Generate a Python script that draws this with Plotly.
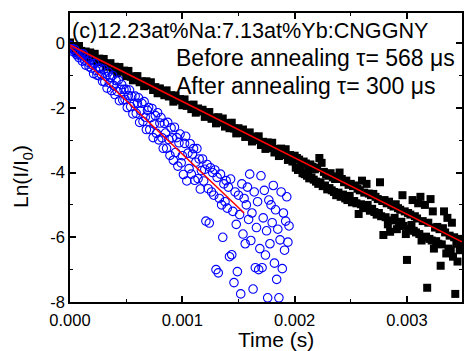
import numpy as np
import plotly.graph_objects as go

# ---- data ----
# Before annealing: sampling grid in microseconds
before_t_us_dense = np.arange(0, 2000, 20)      # 0 .. 1980 us
before_t_us_sparse = np.arange(2000, 3490, 10)  # 2000 .. 3480 us
before_y_dense = [
    0.02, -0.15, -0.11, -0.27, -0.09, -0.24, -0.34, -0.26, -0.46, -0.29,
    -0.43, -0.33, -0.57, -0.48, -0.59, -0.49, -0.73, -0.65, -0.62, -0.79,
    -0.73, -0.93, -0.74, -0.88, -0.85, -1.02, -0.86, -1.04, -1.15, -1.03,
    -1.02, -1.21, -1.18, -1.33, -1.18, -1.31, -1.21, -1.45, -1.36, -1.55,
    -1.40, -1.50, -1.61, -1.46, -1.65, -1.61, -1.81, -1.62, -1.77, -1.73,
    -1.92, -1.74, -1.94, -1.91, -2.04, -1.90, -2.15, -2.02, -2.11, -2.06,
    -2.28, -2.18, -2.13, -2.34, -2.30, -2.48, -2.29, -2.45, -2.33, -2.58,
    -2.47, -2.63, -2.46, -2.64, -2.79, -2.63, -2.78, -2.67, -2.90, -2.82,
    -2.76, -3.04, -2.89, -3.00, -2.88, -3.15, -3.05, -3.27, -3.07, -3.24,
    -3.08, -3.38, -3.27, -3.49, -3.26, -3.46, -3.28, -3.61, -3.46, -3.66,
]
before_y_sparse = [
    -3.48, -3.85, -3.55, -3.92, -3.60, -3.88, -3.70, -4.02, -3.66, -4.05,
    -3.72, -4.10, -3.95, -4.18, -3.75, -4.15, -3.82, -4.22, -3.90, -4.28,
    -3.86, -4.35, -3.55, -4.30, -3.70, -4.42, -3.98, -4.40, -4.05, -4.52,
    -4.10, -4.48, -4.02, -4.55, -4.15, -4.60, -4.20, -4.70, -4.12, -4.62,
    -4.00, -4.75, -4.20, -4.68, -4.30, -4.80, -4.25, -4.85, -4.38, -4.72,
    -4.35, -4.92, -4.42, -4.88, -4.40, -4.95, -4.50, -5.28, -4.55, -4.98,
    -4.25, -5.05, -4.62, -5.10, -4.35, -5.00, -4.65, -5.18, -4.70, -5.12,
    -4.66, -5.22, -4.75, -5.30, -4.82, -5.25, -4.30, -5.35, -4.88, -5.93,
    -4.85, -5.38, -4.95, -5.60, -4.90, -5.83, -5.00, -5.48, -5.05, -5.40,
    -4.98, -5.75, -5.10, -5.60, -5.15, -5.52, -4.70, -5.65, -5.20, -5.90,
    -6.70, -5.25, -5.75, -5.30, -5.62, -4.85, -5.80, -5.35, -5.85, -5.42,
    -4.95, -5.90, -4.75, -6.10, -5.50, -6.00, -5.00, -5.98, -7.56, -5.55,
    -6.05, -4.82, -6.10, -5.20, -6.35, -5.70, -6.12, -5.68, -6.20, -5.75,
    -6.88, -6.22, -5.72, -5.20, -5.85, -6.50, -5.40, -6.35, -5.95, -6.40,
    -5.55, -6.60, -6.00, -7.75, -6.20, -6.75, -6.05, -6.40, -6.20,
]

# After annealing: sampling grid in microseconds
after_t_us = np.arange(0, 1960, 10)  # 0 .. 1950 us
after_y = [
    -0.07, -0.18, -0.17, -0.27, -0.19, -0.29, -0.36, -0.31, -0.45, -0.39,
    -0.33, -0.56, -0.34, -0.53, -0.68, -0.47, -0.59, -0.73, -0.52, -0.77,
    -0.68, -0.94, -0.63, -0.84, -0.99, -0.78, -1.01, -0.77, -0.97, -1.18,
    -0.81, -1.20, -1.03, -1.39, -0.90, -1.23, -1.06, -1.47, -1.00, -1.31,
    -1.59, -1.16, -1.49, -1.14, -1.78, -1.43, -1.28, -1.76, -1.43, -1.74,
    -1.43, -1.99, -1.62, -1.45, -1.96, -1.64, -2.19, -1.86, -1.64, -2.17,
    -1.86, -1.69, -2.45, -2.09, -1.86, -2.42, -1.81, -2.29, -2.67, -2.08,
    -1.99, -2.67, -2.30, -2.02, -2.92, -2.50, -2.24, -2.79, -2.15, -2.99,
    -2.47, -2.30, -2.93, -3.25, -2.48, -2.78, -3.25, -2.45, -2.98, -3.47,
    -2.62, -2.93, -3.62, -2.60, -3.38, -2.92, -3.80, -3.08, -2.81, -3.70,
    -3.48, -4.06, -3.10, -2.88, -4.26, -3.40, -3.88, -3.11, -4.05, -3.43,
    -3.26, -4.24, -3.68, -3.26, -4.19, -3.58, -4.51, -3.94, -3.58, -4.26,
    -3.90, -5.50, -3.75, -4.50, -5.56, -3.85, -4.60, -4.00, -4.70, -3.92,
    -7.00, -4.15, -7.10, -4.80, -4.05, -5.00, -6.00, -4.35, -4.90, -4.25,
    -5.10, -4.45, -6.60, -4.20, -6.54, -5.20, -7.40, -4.60, -5.60, -7.06,
    -4.70, -5.30, -7.75, -4.35, -5.90, -4.80, -6.20, -5.00, -4.45, -5.45,
    -4.05, -6.10, -5.25, -7.60, -4.60, -6.94, -5.70, -4.90, -7.00, -6.35,
    -4.10, -6.94, -5.40, -4.55, -6.55, -5.80, -7.87, -4.85, -6.20, -5.00,
    -5.55, -4.40, -6.80, -5.15, -7.30, -5.75, -7.87, -6.08, -4.60, -6.97,
    -5.25, -6.40, -5.50, -4.75, -6.15, -5.65,
]

# Linear fits (end points)
fit_before_t = [0.0, 0.00349]
fit_before_y = [-0.06, -6.14]
fit_after_t = [0.0, 0.00155]
fit_after_y = [-0.12, -5.25]

x_ticks = [0.0, 0.001, 0.002, 0.003]
x_tick_labels = ["0.000", "0.001", "0.002", "0.003"]
y_ticks = [-8, -6, -4, -2, 0]
y_tick_labels = ["-8", "-6", "-4", "-2", "0"]

title_text = "(c)12.23at%Na:7.13at%Yb:CNGGNY"
before_label = "Before annealing τ= 568 μs"
after_label = "After annealing τ= 300 μs"

# ---- figure ----
before_t = np.concatenate([before_t_us_dense, before_t_us_sparse]) * 1e-6
before_y = before_y_dense + before_y_sparse
after_t = after_t_us * 1e-6

FONT = "Liberation Sans, Arial, sans-serif"

fig = go.Figure()
fig.add_trace(go.Scatter(
    x=before_t, y=before_y, mode="markers",
    marker=dict(symbol="square", size=8, color="black", line=dict(width=0)),
    name="Before annealing"))
fig.add_trace(go.Scatter(
    x=after_t, y=after_y, mode="markers",
    marker=dict(symbol="circle-open", size=8.5, color="#0000FF", line=dict(width=1.1, color="#0000FF")),
    name="After annealing"))
fig.add_trace(go.Scatter(
    x=fit_before_t, y=fit_before_y, mode="lines",
    line=dict(color="#FF0000", width=1.5), name="fit before"))
fig.add_trace(go.Scatter(
    x=fit_after_t, y=fit_after_y, mode="lines",
    line=dict(color="#FF0000", width=1.5), name="fit after"))

axis_common = dict(
    showgrid=False, zeroline=False, showline=True, linecolor="black", linewidth=1.5,
    mirror="ticks", ticks="inside", ticklen=6, tickwidth=1.5, tickcolor="black",
    tickfont=dict(family=FONT, size=16.5, color="black"),
)
fig.update_xaxes(range=[0, 0.00349], tickvals=x_ticks, ticktext=x_tick_labels,
                 ticklabelstandoff=2,
                 minor=dict(ticks="inside", ticklen=3.5, tickwidth=1.2, tickcolor="black", dtick=0.0005),
                 **axis_common)
fig.update_yaxes(range=[-8, 0.93], tickvals=y_ticks, ticktext=y_tick_labels,
                 minor=dict(ticks="inside", ticklen=3.5, tickwidth=1.2, tickcolor="black", dtick=1),
                 **axis_common)

fig.update_layout(
    width=465, height=351,
    margin=dict(l=70, r=1, t=13, b=49),
    paper_bgcolor="white", plot_bgcolor="white",
    showlegend=False,
    annotations=[
        dict(text=title_text, xref="paper", yref="paper", x=0.0, y=0.941,
             xanchor="left", yanchor="middle", showarrow=False,
             font=dict(family=FONT, size=21.6, color="black")),
        dict(text=before_label, xref="paper", yref="paper", x=0.266, y=0.844,
             xanchor="left", yanchor="middle", showarrow=False,
             font=dict(family=FONT, size=23, color="black")),
        dict(text=after_label, xref="paper", yref="paper", x=0.266, y=0.747,
             xanchor="left", yanchor="middle", showarrow=False,
             font=dict(family=FONT, size=23, color="black")),
        dict(text="Time (s)", xref="paper", yref="paper", x=0.525, y=-0.13,
             xanchor="center", yanchor="middle", showarrow=False,
             font=dict(family=FONT, size=21, color="black")),
        dict(text="Ln(I/I<sub>0</sub>)", xref="paper", yref="paper", x=-0.122, y=0.433,
             xanchor="center", yanchor="middle", textangle=-90, showarrow=False,
             font=dict(family=FONT, size=21, color="black")),
    ],
)

fig.write_html("out.html")
